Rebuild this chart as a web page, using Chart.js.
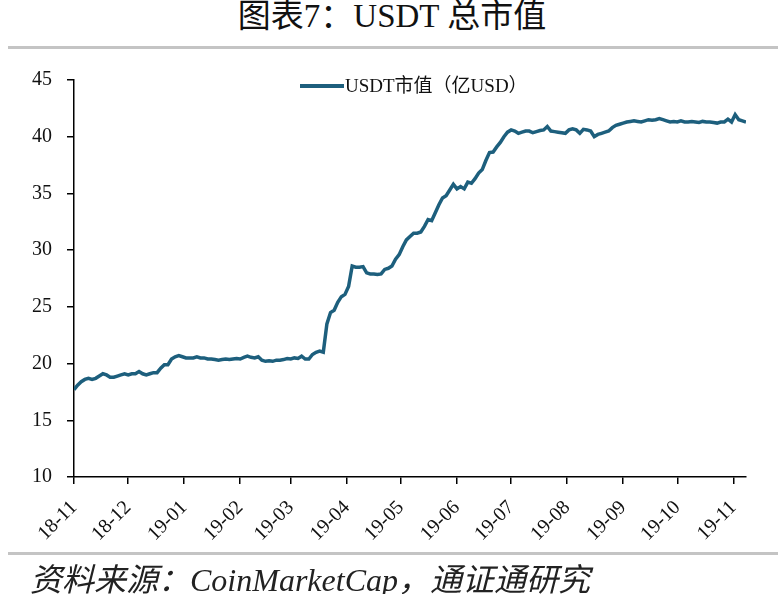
<!DOCTYPE html>
<html>
<head>
<meta charset="utf-8">
<script src="https://cdn.jsdelivr.net/npm/chart.js@4.4.1/dist/chart.umd.min.js"></script>
<style>
  body { margin: 0; background: #fff; }
  #wrap { position: relative; width: 784px; height: 594px; background: #fff; overflow: hidden; }
  #chart { position: absolute; left: 0; top: 0; }
  .title { position: absolute; left: 0; width: 784px; top: -2px; text-align: center;
           font-family: "Liberation Serif", "Noto Sans CJK SC", serif; font-size: 33px; line-height: 36px; color: #111; }
  .rule { position: absolute; left: 8px; width: 770px; height: 3px; background: #c4c4c4; }
  .source { position: absolute; left: 30px; top: 562px; font-family: "Liberation Serif", "Noto Sans CJK SC", serif;
            font-style: italic; font-size: 32px; line-height: 36px; color: #222; white-space: nowrap; }
</style>
</head>
<body>
<div id="wrap">
  <div class="title">图表7：USDT 总市值</div>
  <div class="rule" style="top:46px"></div>
  <canvas id="chart" width="784" height="594"></canvas>
  <div class="rule" style="top:552px"></div>
  <div class="source">资料来源：CoinMarketCap，通证通研究</div>
</div>
<script>
// USDT market cap, 100M USD, one reading every 2 days from 2018-11-01
var startDate = '2018-11-01';
var stepDays = 2;
var values = [
  17.7, 18.1, 18.4, 18.6, 18.7, 18.6, 18.7, 18.9, 19.1, 19.0,
  18.8, 18.8, 18.9, 19.0, 19.1, 19.0, 19.1, 19.1, 19.3, 19.1,
  19.0, 19.1, 19.2, 19.2, 19.6, 19.9, 19.9, 20.4, 20.6, 20.7,
  20.6, 20.5, 20.5, 20.5, 20.6, 20.5, 20.5, 20.4, 20.4, 20.35,
  20.3, 20.35, 20.4, 20.35, 20.4, 20.45, 20.4, 20.55, 20.65, 20.55,
  20.5, 20.6, 20.3, 20.2, 20.25, 20.2, 20.3, 20.3, 20.35, 20.45,
  20.4, 20.5, 20.45, 20.65, 20.4, 20.4, 20.8, 21.0, 21.1, 21.0,
  23.5, 24.5, 24.7, 25.4, 25.9, 26.1, 26.8, 28.6, 28.5, 28.5,
  28.55, 28.0, 27.9, 27.9, 27.85, 27.9, 28.3, 28.4, 28.6, 29.2,
  29.6, 30.3, 30.9, 31.2, 31.5, 31.5, 31.6, 32.1, 32.7, 32.6,
  33.3, 34.0, 34.6, 34.8, 35.3, 35.8, 35.4, 35.6, 35.4, 36.0,
  35.9, 36.3, 36.8, 37.1, 37.9, 38.6, 38.65, 39.1, 39.5, 40.0,
  40.4, 40.6, 40.5, 40.3, 40.4, 40.5, 40.5, 40.35, 40.45, 40.55,
  40.6, 40.9, 40.5, 40.45, 40.4, 40.35, 40.3, 40.6, 40.7, 40.6,
  40.3, 40.65, 40.6, 40.5, 40.0, 40.2, 40.3, 40.4, 40.5, 40.8,
  41.0, 41.1, 41.2, 41.3, 41.35, 41.4, 41.35, 41.3, 41.4, 41.5,
  41.45, 41.5, 41.6, 41.5, 41.4, 41.3, 41.35, 41.3, 41.4, 41.3,
  41.3, 41.35, 41.3, 41.25, 41.35, 41.3, 41.3, 41.25, 41.2, 41.3,
  41.3, 41.55, 41.3, 41.95, 41.5, 41.4, 41.3
];
var tickLabels = ['18-11', '18-12', '19-01', '19-02', '19-03', '19-04', '19-05',
                  '19-06', '19-07', '19-08', '19-09', '19-10', '19-11'];
var seriesName = 'USDT市值（亿USD）';

var DAY = 86400000;
var t0 = Date.parse(startDate + 'T00:00:00Z');
// day offset of the first of each month in tickLabels
var tickDays = tickLabels.map(function (s) {
  var p = s.split('-');
  return Math.round((Date.UTC(2000 + +p[0], +p[1] - 1, 1) - t0) / DAY);
});
var points = values.map(function (v, i) { return { x: i * stepDays, y: v }; });

var serif = '"Liberation Serif", "Noto Sans CJK SC", serif';
var lineColor = '#1d5f7d';

// legend: short thick line + label, sitting at the top of the plot
var topLegend = {
  id: 'topLegend',
  afterDraw: function (chart) {
    var ctx = chart.ctx;
    var ds = chart.data.datasets[0];
    var y = 86;
    ctx.save();
    ctx.strokeStyle = ds.borderColor;
    ctx.lineWidth = 4;
    ctx.beginPath();
    ctx.moveTo(300, y);
    ctx.lineTo(344, y);
    ctx.stroke();
    ctx.fillStyle = '#111';
    ctx.font = '19px ' + serif;
    ctx.textBaseline = 'middle';
    ctx.fillText(ds.label, 345, y + 1);
    ctx.restore();
  }
};

new Chart(document.getElementById('chart'), {
  type: 'line',
  data: {
    datasets: [{
      label: seriesName,
      data: points,
      borderColor: lineColor,
      backgroundColor: lineColor,
      borderWidth: 3.5,
      pointRadius: 0,
      tension: 0
    }]
  },
  options: {
    responsive: false,
    animation: false,
    layout: { padding: { top: 80, right: 38, bottom: 0, left: 0 } },
    plugins: {
      tooltip: { enabled: false },
      legend: { display: false }
    },
    scales: {
      x: {
        type: 'linear',
        min: 0,
        max: 372,
        afterFit: function (scale) { scale.height = 117; },
        afterBuildTicks: function (scale) {
          scale.ticks = tickDays.map(function (d) { return { value: d }; });
        },
        border: { display: true, color: '#000', width: 1.5 },
        grid: { display: true, drawOnChartArea: false, drawTicks: true, tickLength: 7, color: '#000', lineWidth: 1.5 },
        ticks: {
          autoSkip: false,
          maxRotation: 45,
          minRotation: 45,
          padding: 12,
          color: '#111',
          font: { family: serif, size: 20 },
          callback: function (v) {
            var i = tickDays.indexOf(v);
            return i >= 0 ? tickLabels[i] : '';
          }
        }
      },
      y: {
        min: 10,
        max: 45,
        afterFit: function (scale) { scale.width = 74; },
        border: { display: true, color: '#000', width: 1.5 },
        grid: { display: true, drawOnChartArea: false, drawTicks: true, tickLength: 7, color: '#000', lineWidth: 1.5 },
        ticks: {
          stepSize: 5,
          padding: 15,
          color: '#111',
          font: { family: serif, size: 20 }
        }
      }
    }
  },
  plugins: [topLegend]
});
</script>
</body>
</html>
